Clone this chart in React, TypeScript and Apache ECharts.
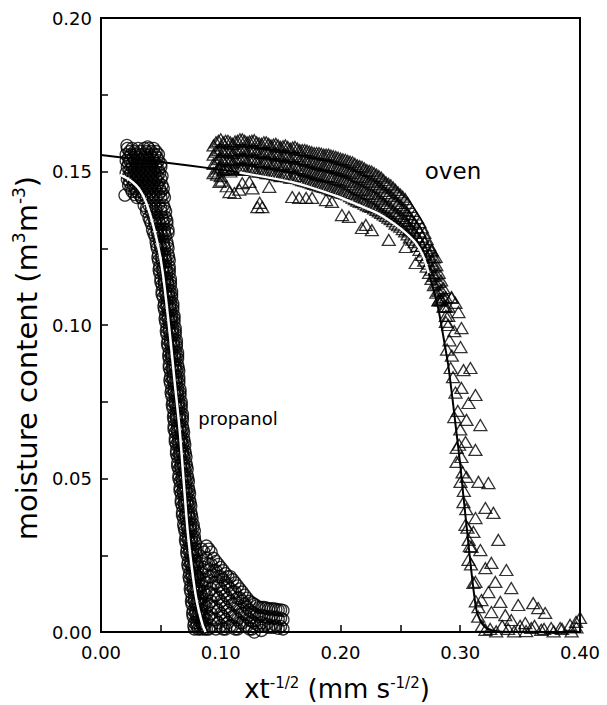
import React, { useEffect, useRef } from 'react';
import * as echarts from 'echarts';

const xTickLabels = ['0.00', '0.10', '0.20', '0.30', '0.40'];
const yTickLabels = ['0.00', '0.05', '0.10', '0.15', '0.20'];

// propanol (circles): top cluster rows [y, x1, x2, ...]
const propanolTopRows: number[][] = [
  [0.1575, 0.022, 0.026, 0.031, 0.036, 0.040, 0.044],
  [0.1565, 0.024, 0.028, 0.033, 0.038, 0.042, 0.046],
  [0.1555, 0.021, 0.025, 0.029, 0.033, 0.037, 0.041, 0.045, 0.048],
  [0.1545, 0.023, 0.027, 0.031, 0.035, 0.039, 0.043, 0.047],
  [0.1535, 0.021, 0.024, 0.028, 0.032, 0.036, 0.040, 0.044, 0.048],
  [0.1525, 0.023, 0.026, 0.030, 0.034, 0.038, 0.042, 0.046, 0.050],
  [0.1515, 0.022, 0.026, 0.030, 0.034, 0.038, 0.042, 0.046, 0.050],
  [0.1505, 0.024, 0.028, 0.032, 0.036, 0.040, 0.044, 0.048],
  [0.1495, 0.021, 0.025, 0.029, 0.033, 0.037, 0.041, 0.045, 0.049],
  [0.1485, 0.023, 0.027, 0.031, 0.035, 0.039, 0.043, 0.047, 0.051],
  [0.1475, 0.022, 0.026, 0.030, 0.034, 0.038, 0.042, 0.046, 0.050],
  [0.1465, 0.024, 0.028, 0.032, 0.036, 0.040, 0.044, 0.048],
  [0.1455, 0.023, 0.027, 0.031, 0.035, 0.039, 0.043, 0.047, 0.051],
  [0.1445, 0.025, 0.029, 0.033, 0.037, 0.041, 0.045, 0.049, 0.052],
  [0.1435, 0.026, 0.030, 0.034, 0.038, 0.042, 0.046, 0.050],
  [0.1425, 0.028, 0.032, 0.036, 0.040, 0.044, 0.048, 0.052],
  [0.1415, 0.030, 0.034, 0.038, 0.042, 0.046, 0.050, 0.053],
];
const propanolOutliers: number[][] = [
  [0.0216, 0.1585], [0.0390, 0.1580], [0.0200, 0.1423], [0.0340, 0.1414],
];
// descending band rows [y, x1, x2, ...]
const propanolFallRows: number[][] = [
  [0.139, 0.036, 0.040, 0.044, 0.048, 0.052],
  [0.138, 0.038, 0.042, 0.046, 0.050, 0.053],
  [0.137, 0.038, 0.042, 0.046, 0.050, 0.054],
  [0.135, 0.040, 0.044, 0.047, 0.051, 0.054],
  [0.134, 0.041, 0.045, 0.048, 0.052, 0.055],
  [0.133, 0.042, 0.045, 0.049, 0.052, 0.055],
  [0.131, 0.043, 0.047, 0.050, 0.053, 0.056],
  [0.130, 0.044, 0.047, 0.050, 0.053, 0.056],
  [0.129, 0.045, 0.048, 0.051, 0.054],
  [0.127, 0.046, 0.049, 0.052, 0.055],
  [0.126, 0.0465, 0.0495, 0.0525, 0.0555],
  [0.125, 0.047, 0.050, 0.053, 0.056],
  [0.123, 0.048, 0.051, 0.053, 0.056],
  [0.122, 0.0475, 0.0505, 0.0535, 0.0565],
  [0.121, 0.048, 0.051, 0.054, 0.057],
  [0.119, 0.049, 0.052, 0.054, 0.057],
  [0.118, 0.0485, 0.0515, 0.0545, 0.0570],
  [0.117, 0.049, 0.052, 0.055, 0.057],
  [0.115, 0.050, 0.053, 0.055, 0.058],
  [0.114, 0.0500, 0.0530, 0.0555, 0.0580],
  [0.113, 0.051, 0.053, 0.056, 0.058],
  [0.111, 0.051, 0.054, 0.057, 0.059],
  [0.110, 0.0510, 0.0540, 0.0565, 0.0590],
  [0.109, 0.052, 0.055, 0.057, 0.059],
  [0.107, 0.053, 0.055, 0.058, 0.060],
  [0.106, 0.0525, 0.0550, 0.0575, 0.0600],
  [0.105, 0.053, 0.056, 0.058, 0.060],
  [0.103, 0.054, 0.056, 0.059, 0.061],
  [0.102, 0.0535, 0.0560, 0.0585, 0.0610],
  [0.101, 0.054, 0.057, 0.059, 0.061],
  [0.099, 0.055, 0.057, 0.060, 0.062],
  [0.098, 0.0545, 0.0570, 0.0595, 0.0620],
  [0.097, 0.055, 0.058, 0.060, 0.062],
  [0.095, 0.056, 0.058, 0.061, 0.063],
  [0.094, 0.0555, 0.0580, 0.0605, 0.0630],
  [0.093, 0.056, 0.059, 0.061, 0.063],
  [0.091, 0.057, 0.059, 0.062, 0.064],
  [0.090, 0.0565, 0.0590, 0.0615, 0.0640],
  [0.089, 0.057, 0.059, 0.062, 0.064],
  [0.087, 0.057, 0.060, 0.062, 0.064],
  [0.086, 0.0570, 0.0595, 0.0620, 0.0645],
  [0.085, 0.058, 0.060, 0.063, 0.065],
  [0.083, 0.058, 0.060, 0.063, 0.065],
  [0.082, 0.0575, 0.0600, 0.0625, 0.0650],
  [0.081, 0.058, 0.061, 0.063, 0.065],
  [0.079, 0.059, 0.061, 0.064, 0.066],
  [0.078, 0.0585, 0.0610, 0.0635, 0.0660],
  [0.077, 0.059, 0.062, 0.064, 0.066],
  [0.075, 0.060, 0.062, 0.065, 0.067],
  [0.074, 0.0595, 0.0620, 0.0645, 0.0670],
  [0.073, 0.060, 0.063, 0.065, 0.067],
  [0.071, 0.061, 0.063, 0.066, 0.068],
  [0.070, 0.0605, 0.0630, 0.0655, 0.0680],
  [0.069, 0.061, 0.063, 0.066, 0.068],
  [0.067, 0.061, 0.064, 0.066, 0.068],
  [0.066, 0.0610, 0.0635, 0.0660, 0.0685],
  [0.065, 0.062, 0.064, 0.067, 0.069],
  [0.063, 0.062, 0.065, 0.067, 0.069],
  [0.062, 0.0620, 0.0645, 0.0670, 0.0695],
  [0.061, 0.063, 0.065, 0.068, 0.070],
  [0.059, 0.063, 0.066, 0.068, 0.070],
  [0.058, 0.0630, 0.0655, 0.0680, 0.0705],
  [0.057, 0.064, 0.066, 0.069, 0.071],
  [0.055, 0.064, 0.067, 0.069, 0.071],
  [0.054, 0.0640, 0.0665, 0.0690, 0.0715],
  [0.053, 0.065, 0.067, 0.070, 0.072],
  [0.051, 0.065, 0.068, 0.070, 0.072],
  [0.050, 0.0650, 0.0675, 0.0700, 0.0725],
  [0.049, 0.066, 0.068, 0.071, 0.073],
  [0.047, 0.066, 0.069, 0.071, 0.073],
  [0.046, 0.0660, 0.0685, 0.0710, 0.0735],
  [0.045, 0.067, 0.069, 0.072, 0.074],
  [0.043, 0.067, 0.070, 0.072, 0.074],
  [0.042, 0.0670, 0.0695, 0.0720, 0.0745],
  [0.041, 0.068, 0.070, 0.073, 0.075],
  [0.039, 0.068, 0.071, 0.073, 0.075],
  [0.038, 0.0680, 0.0705, 0.0730, 0.0755],
  [0.037, 0.069, 0.071, 0.074, 0.076],
  [0.035, 0.069, 0.072, 0.075, 0.077],
  [0.034, 0.0695, 0.0720, 0.0745, 0.0770],
  [0.033, 0.070, 0.073, 0.075, 0.078],
  [0.031, 0.071, 0.073, 0.076, 0.078],
  [0.030, 0.0705, 0.0730, 0.0755, 0.0780],
  [0.029, 0.071, 0.074, 0.076, 0.079],
  [0.027, 0.072, 0.074, 0.077, 0.079],
  [0.026, 0.0715, 0.0740, 0.0765, 0.0790],
  [0.025, 0.072, 0.075, 0.077, 0.080],
  [0.023, 0.073, 0.075, 0.078, 0.080],
  [0.022, 0.0725, 0.0750, 0.0775, 0.0800],
  [0.021, 0.073, 0.076, 0.078, 0.081],
  [0.019, 0.074, 0.076, 0.079, 0.081],
  [0.018, 0.0735, 0.0760, 0.0785, 0.0810],
  [0.017, 0.074, 0.077, 0.079, 0.082],
  [0.015, 0.075, 0.077, 0.080, 0.082],
  [0.014, 0.0745, 0.0770, 0.0795, 0.0820],
  [0.013, 0.075, 0.078, 0.080, 0.083],
  [0.011, 0.076, 0.078, 0.081, 0.083],
  [0.010, 0.0755, 0.0780, 0.0805, 0.0830],
  [0.009, 0.076, 0.079, 0.081, 0.084],
  [0.007, 0.077, 0.079, 0.082, 0.084],
  [0.006, 0.0765, 0.0790, 0.0815, 0.0840],
  [0.005, 0.077, 0.080, 0.082, 0.085],
  [0.003, 0.078, 0.080, 0.083, 0.085],
  [0.002, 0.0775, 0.0800, 0.0825, 0.0850],
  [0.001, 0.078, 0.081, 0.083, 0.086],
];
// tail columns [x, y1, y2, ...]
const propanolTailCols: number[][] = [
  [0.084, 0.027, 0.023, 0.019, 0.015, 0.011, 0.007, 0.003],
  [0.086, 0.026, 0.021, 0.017, 0.013, 0.009, 0.005, 0.002],
  [0.088, 0.028, 0.024, 0.020, 0.016, 0.012, 0.008, 0.004, 0.001],
  [0.090, 0.027, 0.022, 0.018, 0.013, 0.009, 0.005, 0.001],
  [0.092, 0.026, 0.022, 0.018, 0.014, 0.010, 0.006, 0.002],
  [0.094, 0.024, 0.020, 0.016, 0.012, 0.008, 0.004],
  [0.096, 0.023, 0.020, 0.016, 0.012, 0.008, 0.004, 0.001],
  [0.098, 0.022, 0.018, 0.015, 0.011, 0.007, 0.003],
  [0.100, 0.021, 0.018, 0.014, 0.010, 0.006, 0.002],
  [0.102, 0.020, 0.017, 0.013, 0.009, 0.005, 0.001],
  [0.104, 0.019, 0.016, 0.012, 0.008, 0.004, 0.001],
  [0.106, 0.018, 0.015, 0.011, 0.007, 0.003],
  [0.108, 0.018, 0.014, 0.010, 0.006, 0.002],
  [0.110, 0.017, 0.013, 0.009, 0.005, 0.002],
  [0.112, 0.016, 0.013, 0.009, 0.005, 0.001],
  [0.114, 0.015, 0.011, 0.008, 0.004, 0.001],
  [0.116, 0.014, 0.011, 0.007, 0.003],
  [0.118, 0.013, 0.010, 0.006, 0.003],
  [0.120, 0.012, 0.009, 0.006, 0.002],
  [0.122, 0.011, 0.008, 0.005, 0.002],
  [0.124, 0.010, 0.007, 0.004, 0.001],
  [0.126, 0.0095, 0.0065, 0.0035, 0.001],
  [0.128, 0.009, 0.006, 0.003, 0.000],
  [0.130, 0.0085, 0.0055, 0.0025],
  [0.132, 0.008, 0.005, 0.002],
  [0.134, 0.008, 0.0055, 0.003, 0.0005],
  [0.136, 0.008, 0.005, 0.002],
  [0.138, 0.0078, 0.005, 0.0025],
  [0.140, 0.0075, 0.0045, 0.0015],
  [0.142, 0.0076, 0.005, 0.002],
  [0.144, 0.0075, 0.0045, 0.0015],
  [0.146, 0.0074, 0.0048, 0.002],
  [0.148, 0.0072, 0.0042, 0.0012],
  [0.150, 0.0072, 0.0045, 0.0018],
  [0.152, 0.0070, 0.0040, 0.0010],
];

// oven (triangles): dense upper band columns [x, y1, y2, ...]
const ovenBandCols: number[][] = [
  [0.094, 0.1585, 0.1555, 0.1525, 0.1495],
  [0.096, 0.1595, 0.1565, 0.1530, 0.1500],
  [0.098, 0.1600, 0.1570, 0.1540, 0.1510],
  [0.100, 0.1605, 0.1575, 0.1545, 0.1515, 0.1485],
  [0.102, 0.1595, 0.1565, 0.1535, 0.1505],
  [0.104, 0.1600, 0.1568, 0.1538, 0.1508],
  [0.106, 0.1600, 0.1570, 0.1540, 0.1510],
  [0.108, 0.1595, 0.1565, 0.1535, 0.1500],
  [0.110, 0.1590, 0.1560, 0.1530, 0.1505],
  [0.112, 0.1598, 0.1568, 0.1538, 0.1508],
  [0.114, 0.1600, 0.1570, 0.1540, 0.1510],
  [0.116, 0.1605, 0.1572, 0.1542, 0.1512],
  [0.118, 0.1605, 0.1575, 0.1545, 0.1515],
  [0.120, 0.1600, 0.1570, 0.1540, 0.1508],
  [0.122, 0.1595, 0.1565, 0.1535, 0.1505],
  [0.124, 0.1598, 0.1568, 0.1538, 0.1506],
  [0.126, 0.1600, 0.1570, 0.1540, 0.1510],
  [0.128, 0.1602, 0.1572, 0.1542, 0.1505],
  [0.130, 0.1595, 0.1565, 0.1535, 0.1500],
  [0.132, 0.1592, 0.1562, 0.1532, 0.1500],
  [0.134, 0.1590, 0.1560, 0.1530, 0.1500],
  [0.136, 0.1595, 0.1562, 0.1532, 0.1498],
  [0.138, 0.1595, 0.1565, 0.1535, 0.1495],
  [0.140, 0.1590, 0.1560, 0.1528, 0.1495],
  [0.142, 0.1585, 0.1555, 0.1525, 0.1495],
  [0.144, 0.1588, 0.1558, 0.1526, 0.1492],
  [0.146, 0.1590, 0.1560, 0.1530, 0.1490],
  [0.148, 0.1585, 0.1555, 0.1523, 0.1488],
  [0.150, 0.1580, 0.1550, 0.1520, 0.1485],
  [0.152, 0.1582, 0.1552, 0.1520, 0.1486],
  [0.154, 0.1585, 0.1555, 0.1525, 0.1490],
  [0.156, 0.1580, 0.1550, 0.1518, 0.1484],
  [0.158, 0.1575, 0.1545, 0.1515, 0.1480],
  [0.160, 0.1578, 0.1547, 0.1515, 0.1480],
  [0.162, 0.1580, 0.1550, 0.1520, 0.1485],
  [0.164, 0.1575, 0.1545, 0.1512, 0.1478],
  [0.166, 0.1570, 0.1540, 0.1510, 0.1475],
  [0.168, 0.1570, 0.1540, 0.1507, 0.1472],
  [0.170, 0.1570, 0.1540, 0.1505, 0.1470],
  [0.172, 0.1568, 0.1536, 0.1502, 0.1468],
  [0.174, 0.1565, 0.1535, 0.1500, 0.1465],
  [0.176, 0.1563, 0.1532, 0.1498, 0.1462],
  [0.178, 0.1560, 0.1530, 0.1495, 0.1460],
  [0.180, 0.1560, 0.1527, 0.1492, 0.1457],
  [0.182, 0.1560, 0.1525, 0.1490, 0.1455],
  [0.184, 0.1558, 0.1523, 0.1488, 0.1452],
  [0.186, 0.1555, 0.1520, 0.1485, 0.1450],
  [0.188, 0.1555, 0.1520, 0.1485, 0.1448],
  [0.190, 0.1555, 0.1520, 0.1485, 0.1445],
  [0.192, 0.1552, 0.1517, 0.1482, 0.1442],
  [0.194, 0.1550, 0.1515, 0.1480, 0.1440],
  [0.196, 0.1548, 0.1512, 0.1477, 0.1437],
  [0.198, 0.1545, 0.1510, 0.1475, 0.1435],
  [0.200, 0.1542, 0.1507, 0.1472, 0.1432],
  [0.202, 0.1540, 0.1505, 0.1470, 0.1430],
  [0.204, 0.1538, 0.1502, 0.1467, 0.1428],
  [0.206, 0.1535, 0.1500, 0.1465, 0.1425],
  [0.208, 0.1532, 0.1497, 0.1460, 0.1420],
  [0.210, 0.1530, 0.1495, 0.1455, 0.1415],
  [0.212, 0.1525, 0.1490, 0.1450, 0.1410],
  [0.214, 0.1520, 0.1485, 0.1445, 0.1405],
  [0.216, 0.1518, 0.1482, 0.1442, 0.1402],
  [0.218, 0.1515, 0.1480, 0.1440, 0.1400],
  [0.220, 0.1510, 0.1475, 0.1435, 0.1395],
  [0.222, 0.1505, 0.1470, 0.1430, 0.1390],
  [0.224, 0.1502, 0.1467, 0.1427, 0.1387],
  [0.226, 0.1500, 0.1465, 0.1425, 0.1385],
  [0.228, 0.1495, 0.1460, 0.1420, 0.1380],
  [0.230, 0.1490, 0.1455, 0.1415, 0.1375],
  [0.232, 0.1485, 0.1450, 0.1410, 0.1370],
  [0.234, 0.1480, 0.1445, 0.1405, 0.1365],
  [0.236, 0.1472, 0.1437, 0.1397, 0.1360],
  [0.238, 0.1465, 0.1430, 0.1390, 0.1355],
  [0.240, 0.1460, 0.1425, 0.1385, 0.1350],
  [0.242, 0.1455, 0.1420, 0.1380, 0.1345],
  [0.244, 0.1448, 0.1412, 0.1372, 0.1338],
  [0.246, 0.1440, 0.1405, 0.1365, 0.1330],
  [0.248, 0.1432, 0.1397, 0.1360, 0.1325],
  [0.250, 0.1425, 0.1390, 0.1355, 0.1320],
  [0.252, 0.1418, 0.1382, 0.1348, 0.1312],
  [0.254, 0.1410, 0.1375, 0.1340, 0.1305],
  [0.256, 0.1398, 0.1362, 0.1328, 0.1295],
  [0.258, 0.1385, 0.1350, 0.1315, 0.1285],
  [0.260, 0.1372, 0.1340, 0.1308, 0.1278],
  [0.262, 0.1360, 0.1330, 0.1300, 0.1270],
  [0.264, 0.1348, 0.1318, 0.1288, 0.1258],
  [0.266, 0.1335, 0.1305, 0.1275, 0.1245],
  [0.268, 0.1318, 0.1288, 0.1258, 0.1228],
  [0.270, 0.1300, 0.1270, 0.1240, 0.1210],
  [0.272, 0.1280, 0.1250, 0.1220, 0.1190],
  [0.274, 0.1260, 0.1230, 0.1200, 0.1170],
  [0.276, 0.1240, 0.1210, 0.1180, 0.1150],
  [0.278, 0.1220, 0.1190, 0.1160, 0.1130],
  [0.280, 0.1195, 0.1165, 0.1135, 0.1105],
  [0.282, 0.1170, 0.1140, 0.1110, 0.1080],
  [0.284, 0.1145, 0.1115, 0.1085],
  [0.286, 0.1120, 0.1090, 0.1060],
  [0.288, 0.1090, 0.1060, 0.1030],
  [0.290, 0.1060, 0.1030, 0.1000],
];
const ovenLower: number[][] = [
  [0.0990, 0.1466], [0.1073, 0.1433], [0.1114, 0.1430], [0.1239, 0.1466], [0.1306, 0.1384], [0.1347, 0.1384],
  [0.1405, 0.1450], [0.1597, 0.1417], [0.1655, 0.1414], [0.1713, 0.1414], [0.1763, 0.1414], [0.1879, 0.1407],
  [0.1929, 0.1401], [0.2012, 0.1358], [0.2071, 0.1352], [0.2179, 0.1316], [0.2212, 0.1326], [0.2262, 0.1309],
  [0.2403, 0.1277], [0.2545, 0.1254], [0.2570, 0.1310], [0.2628, 0.1202], [0.2819, 0.1081], [0.0970, 0.1490],
  [0.1010, 0.1470], [0.1050, 0.1452], [0.1180, 0.1462], [0.1155, 0.1441], [0.1325, 0.1398], [0.1265, 0.1445],
  [0.2760, 0.1244], [0.2794, 0.1222], [0.2927, 0.1091], [0.2960, 0.1072],
];
const ovenFall: number[][] = [
  [0.2840, 0.1080], [0.2880, 0.1010], [0.2910, 0.0950], [0.2930, 0.0900], [0.2870, 0.1060], [0.2950, 0.0980],
  [0.2940, 0.0830], [0.2960, 0.0780], [0.2980, 0.0720], [0.3000, 0.0660], [0.2970, 0.0600],
  [0.2927, 0.1088], [0.2985, 0.1042], [0.3010, 0.0990], [0.3002, 0.0928], [0.3085, 0.0860], [0.3027, 0.0853],
  [0.3127, 0.0772], [0.3069, 0.0746], [0.3010, 0.0795], [0.3052, 0.0691], [0.3168, 0.0674], [0.3044, 0.0619],
  [0.3127, 0.0593], [0.2969, 0.0554], [0.3002, 0.0489], [0.3152, 0.0489], [0.3235, 0.0485], [0.3052, 0.0505],
  [0.3027, 0.0423], [0.3210, 0.0404], [0.3277, 0.0388], [0.3127, 0.0371], [0.3044, 0.0349], [0.3110, 0.0326],
  [0.3318, 0.0300], [0.3094, 0.0277], [0.3168, 0.0267], [0.3260, 0.0225], [0.3385, 0.0202], [0.3069, 0.0235],
  [0.3210, 0.0208], [0.3293, 0.0163], [0.3426, 0.0143], [0.3127, 0.0163], [0.3235, 0.0130], [0.3177, 0.0104],
  [0.3335, 0.0098], [0.3484, 0.0088], [0.3609, 0.0094], [0.3651, 0.0078], [0.3709, 0.0062], [0.3152, 0.0081],
  [0.3260, 0.0065], [0.3376, 0.0055], [0.3426, 0.0039], [0.3543, 0.0029], [0.3210, 0.0007], [0.3593, 0.0013],
  [0.3676, 0.0007], [0.3759, 0.0013], [0.3834, 0.0013], [0.3917, 0.0023], [0.3967, 0.0033], [0.4000, 0.0046],
  [0.3010, 0.0570], [0.3030, 0.0460], [0.3050, 0.0400], [0.3060, 0.0340], [0.3080, 0.0280], [0.3090, 0.0220],
  [0.3110, 0.0160], [0.3130, 0.0100], [0.3150, 0.0050], [0.3180, 0.0020], [0.3250, 0.0010], [0.3300, 0.0002],
  [0.3350, 0.0020], [0.3400, 0.0010], [0.3450, 0.0002], [0.3500, 0.0020], [0.3550, 0.0003], [0.3620, 0.0020],
  [0.3700, 0.0010], [0.3780, 0.0002], [0.3850, 0.0010], [0.3930, 0.0002], [0.3970, 0.0015],
  [0.2890, 0.0920], [0.2920, 0.0860], [0.2950, 0.0700], [0.2990, 0.0610], [0.3020, 0.0520], [0.3070, 0.0300],
];

// fitted curves
const ovenFit: number[][] = [
  [0, 0.1554], [0.03, 0.1540], [0.06, 0.1526], [0.09, 0.1511], [0.1156, 0.1497], [0.14, 0.1480], [0.16, 0.1465],
  [0.1738, 0.1450], [0.1988, 0.1417], [0.2154, 0.1390], [0.2300, 0.1366], [0.2403, 0.1342], [0.2530, 0.1305],
  [0.2628, 0.1267], [0.2690, 0.1225], [0.2736, 0.1169], [0.2780, 0.1110], [0.2819, 0.1049], [0.2860, 0.0960],
  [0.2902, 0.0863], [0.2935, 0.0760], [0.2969, 0.0648], [0.3000, 0.0545], [0.3027, 0.0440], [0.3057, 0.0330],
  [0.3085, 0.0225], [0.3110, 0.0140], [0.3135, 0.0072], [0.3170, 0.0035], [0.3210, 0.0015], [0.3270, 0.0005],
  [0.3350, 0.0000],
];
const ovenFitWhite: number[][] = [
  [0.1156, 0.1497], [0.14, 0.1480], [0.16, 0.1465], [0.1738, 0.1450], [0.1988, 0.1417], [0.2154, 0.1390],
  [0.2300, 0.1366], [0.2403, 0.1342], [0.2530, 0.1305], [0.2628, 0.1267], [0.2690, 0.1225], [0.2736, 0.1169],
];
const propanolFit: number[][] = [
  [0.0158, 0.1489], [0.0241, 0.1472], [0.0324, 0.1440], [0.0391, 0.1384], [0.0466, 0.1277], [0.0516, 0.1169],
  [0.0575, 0.0970], [0.0615, 0.0815], [0.0657, 0.0658], [0.0690, 0.0495], [0.0723, 0.0332], [0.0760, 0.0205],
  [0.0798, 0.0104], [0.0848, 0.0023], [0.0873, 0.0000],
];

// reshape helpers (no values are created, only regrouped)
const fromRows = (rows: number[][]) => rows.flatMap(([y, ...xs]) => xs.map((x) => [x, y]));
const fromCols = (cols: number[][]) => cols.flatMap(([x, ...ys]) => ys.map((y) => [x, y]));

const FONT = 'DejaVu Sans';

export default function App() {
  const ref = useRef<HTMLDivElement>(null);
  useEffect(() => {
    const chart = echarts.init(ref.current!, null, { renderer: 'svg' });
    const hollow = { color: 'rgba(0,0,0,0)', borderColor: '#000', borderWidth: 1.3 };
    const axisCommon = {
      type: 'value',
      axisLine: { show: true, onZero: false, lineStyle: { color: '#000', width: 2 } },
      axisTick: { show: true, inside: true, length: 7, lineStyle: { color: '#000', width: 1.5 } },
      splitLine: { show: false },
    };
    const propanolData = [
      ...fromRows(propanolTopRows), ...propanolOutliers, ...fromRows(propanolFallRows), ...fromCols(propanolTailCols),
    ];
    const ovenData = [...fromCols(ovenBandCols), ...ovenLower, ...ovenFall];
    chart.setOption({
      animation: false,
      backgroundColor: '#fff',
      grid: { left: 101, top: 18, width: 479, height: 614, show: true, borderColor: '#000', borderWidth: 2, backgroundColor: 'transparent' },
      xAxis: {
        ...axisCommon,
        min: 0, max: 0.4, interval: 0.05,
        axisLabel: {
          color: '#000', fontSize: 18, fontFamily: FONT, margin: 11,
          formatter: (v: number) => { const s = v.toFixed(2); return xTickLabels.includes(s) ? s : ''; },
        },
      },
      yAxis: {
        ...axisCommon,
        min: 0, max: 0.2, interval: 0.025,
        axisLabel: {
          color: '#000', fontSize: 18, fontFamily: FONT, margin: 9,
          formatter: (v: number) => { const s = v.toFixed(2); return yTickLabels.includes(s) && Math.abs(v * 20 - Math.round(v * 20)) < 1e-6 ? s : ''; },
        },
      },
      series: [
        { name: 'propanol', type: 'scatter', symbol: 'circle', symbolSize: 12, clip: false, silent: true, z: 2,
          itemStyle: hollow, data: propanolData },
        { name: 'oven', type: 'scatter', symbol: 'triangle', symbolSize: [13, 11], clip: false, silent: true, z: 2,
          itemStyle: hollow, data: ovenData },
        { name: 'oven fit', type: 'line', data: ovenFit, showSymbol: false, smooth: 0.2, silent: true, z: 4,
          lineStyle: { color: '#000', width: 2 } },
        { name: 'oven fit (white)', type: 'line', data: ovenFitWhite, showSymbol: false, smooth: 0.2, silent: true, z: 5,
          lineStyle: { color: '#fff', width: 2.5 } },
        { name: 'propanol fit', type: 'line', data: propanolFit, showSymbol: false, smooth: 0.3, silent: true, z: 5,
          lineStyle: { color: '#fff', width: 2.5 } },
      ],
      graphic: [
        {
          type: 'text', x: 27, y: 358, rotation: Math.PI / 2, silent: true,
          style: {
            text: '{a|moisture content (m}{s|3}{a|m}{s|-3}{a|)}',
            align: 'center', verticalAlign: 'middle', textAlign: 'center', textVerticalAlign: 'middle',
            fill: '#000',
            rich: {
              a: { fontSize: 29, fontFamily: FONT, fill: '#000' },
              s: { fontSize: 17, fontFamily: FONT, fill: '#000', padding: [0, 0, 16, 0] },
            },
          },
        },
        {
          type: 'text', x: 337, y: 689, silent: true,
          style: {
            text: '{a|xt}{s|-1/2}{a| (mm s}{s|-1/2}{a|)}',
            align: 'center', verticalAlign: 'middle', textAlign: 'center', textVerticalAlign: 'middle',
            fill: '#000',
            rich: {
              a: { fontSize: 26, fontFamily: FONT, fill: '#000', lineHeight: 26 },
              s: { fontSize: 15, fontFamily: FONT, fill: '#000', padding: [0, 0, 12, 0] },
            },
          },
        },
        {
          type: 'text', x: 453, y: 171, silent: true,
          style: { text: 'oven', fontSize: 23, fontFamily: FONT, fill: '#000', align: 'center', verticalAlign: 'middle', textAlign: 'center', textVerticalAlign: 'middle' },
        },
        {
          type: 'text', x: 238, y: 418, silent: true,
          style: { text: 'propanol', fontSize: 18, fontFamily: FONT, fill: '#000', align: 'center', verticalAlign: 'middle', textAlign: 'center', textVerticalAlign: 'middle' },
        },
      ],
    });
    return () => chart.dispose();
  }, []);
  return <div ref={ref} style={{ position: 'absolute', left: 0, top: 0, width: 607, height: 705 }} />;
}
